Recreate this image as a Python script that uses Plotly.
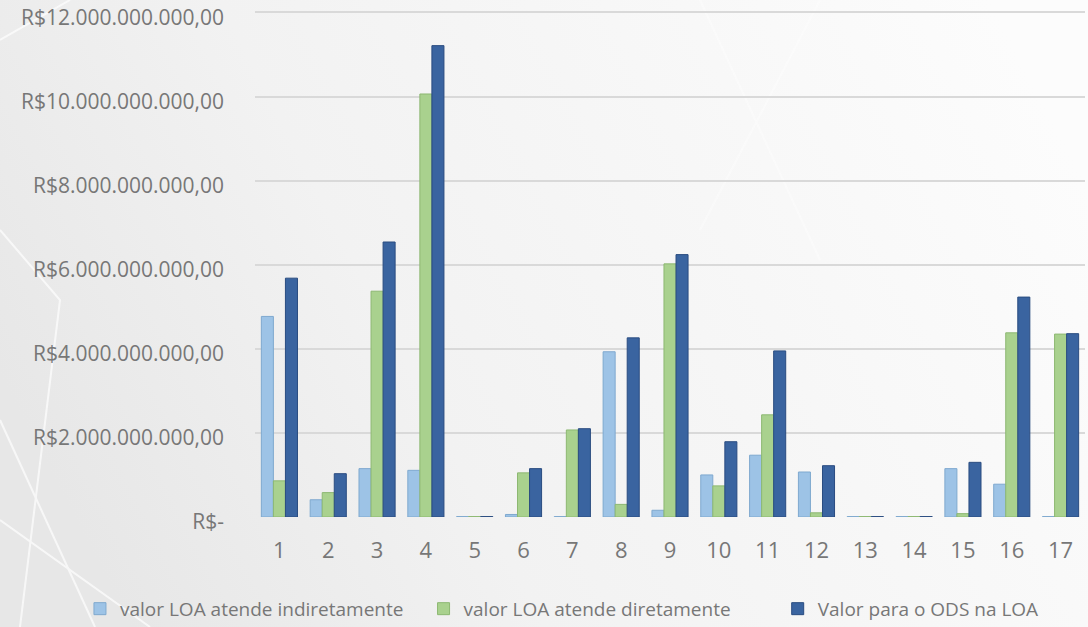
import base64
import plotly.graph_objects as go

categories = [str(i) for i in range(1, 18)]
indireto = [4.77, 0.41, 1.15, 1.11, 0.01, 0.06, 0.01, 3.93, 0.16, 1.00, 1.47, 1.07, 0.01, 0.01, 1.15, 0.78, 0.01]
direto = [0.86, 0.58, 5.37, 10.06, 0.01, 1.05, 2.07, 0.30, 6.02, 0.74, 2.43, 0.10, 0.01, 0.01, 0.08, 4.38, 4.35]
total = [5.68, 1.03, 6.54, 11.21, 0.01, 1.15, 2.10, 4.26, 6.24, 1.79, 3.95, 1.22, 0.01, 0.01, 1.30, 5.23, 4.36]
indireto = [v * 1e9 for v in indireto]
direto = [v * 1e9 for v in direto]
total = [v * 1e9 for v in total]

series_names = ["valor LOA atende indiretamente", "valor LOA atende diretamente", "Valor para o ODS na LOA"]
colors = ["#9DC3E6", "#A9D18E", "#3A64A0"]
edge = ["#7FA9CF", "#8DB872", "#2A4C80"]
legend_ids = ["legend", "legend2", "legend3"]
legend_x = [0.0735, 0.3893, 0.7148]

tick_vals = [0, 2e9, 4e9, 6e9, 8e9, 10e9, 12e9]
tick_text = ["R$-", "R$2.000.000.000,00", "R$4.000.000.000,00", "R$6.000.000.000,00",
             "R$8.000.000.000,00", "R$10.000.000.000,00", "R$12.000.000.000,00"]

W, H = 1088, 627
ML, MR, MT, MB = 255, 3, 4, 110

# decorative slide background (gradient + faint white strokes)
svg = f"""<svg xmlns='http://www.w3.org/2000/svg' width='{W}' height='{H}' viewBox='0 0 {W} {H}'>
<defs><linearGradient id='g' x1='0' y1='0.6' x2='1' y2='0.3'>
<stop offset='0' stop-color='#e7e7e7'/><stop offset='0.35' stop-color='#f2f2f2'/>
<stop offset='1' stop-color='#fcfcfc'/></linearGradient></defs>
<rect width='{W}' height='{H}' fill='url(#g)'/>
<g stroke='#ffffff' stroke-width='2' fill='none' opacity='0.7'>
<path d='M0 420 L95 627'/><path d='M0 520 L150 627'/><path d='M20 627 L60 300 L0 230'/>
<path d='M0 40 L70 0'/>
</g>
<g stroke='#ffffff' stroke-width='2' fill='none' opacity='0.35'>
<path d='M700 0 L820 260'/><path d='M820 0 L700 230'/>
</g></svg>"""
bg_src = "data:image/svg+xml;base64," + base64.b64encode(svg.encode()).decode()
pw, ph = W - ML - MR, H - MT - MB

fig = go.Figure()
for name, vals, c, e, lg in zip(series_names, [indireto, direto, total], colors, edge, legend_ids):
    fig.add_trace(go.Bar(x=categories, y=vals, name=name, legend=lg,
                         marker=dict(color=c, line=dict(color=e, width=1))))

fig.add_layout_image(dict(source=bg_src, xref="paper", yref="paper",
                          x=-ML / pw, y=1 + MT / ph, sizex=W / pw, sizey=H / ph,
                          sizing="stretch", xanchor="left", yanchor="top", layer="below"))

font_family = "Open Sans, Liberation Sans, sans-serif"
legend_common = dict(orientation="h", xref="container", yref="container", xanchor="left",
                     y=0.029, yanchor="middle", font=dict(size=19, color="#777777"),
                     itemwidth=30, bgcolor="rgba(0,0,0,0)")
fig.update_layout(
    width=W, height=H,
    margin=dict(l=ML, r=MR, t=MT, b=MB),
    paper_bgcolor="#f1f1f1",
    plot_bgcolor="rgba(0,0,0,0)",
    barmode="group", bargap=0.26, bargroupgap=0,
    font=dict(family=font_family, color="#777777", size=19),
    showlegend=True,
    legend=dict(x=legend_x[0], **legend_common),
    legend2=dict(x=legend_x[1], **legend_common),
    legend3=dict(x=legend_x[2], **legend_common),
    xaxis=dict(type="category", showgrid=False, zeroline=False, showline=False, ticks="",
               tickfont=dict(size=22), ticklabelstandoff=18, automargin=False),
    yaxis=dict(range=[0, 12.2e9], tickvals=tick_vals, ticktext=tick_text, showgrid=True,
               gridcolor="#d9d9d9", gridwidth=2, zeroline=False, showline=False, ticks="",
               tickfont=dict(size=21), ticklabelstandoff=30, ticklabelshift=5,
               automargin=False, ticklabeloverflow="allow"),
)
fig.write_html("out.html")
